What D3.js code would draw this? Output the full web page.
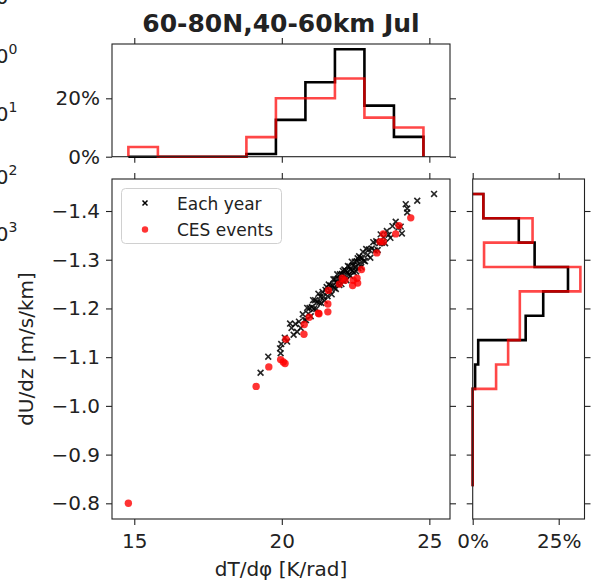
<!DOCTYPE html>
<html>
<head>
<meta charset="utf-8">
<script src="https://cdn.jsdelivr.net/npm/d3@7"></script>
<style>
	body { margin: 0; background: #fff; }
	svg text { font-family: "DejaVu Sans", sans-serif; fill: #222; }
</style>
</head>
<body>
<div id="chart"></div>
<script>
// per-year values (black x) and CES events (red dots)
const yearDT = [19.28, 19.54, 19.94, 19.96, 19.98, 20.10, 20.18, 20.28, 20.33, 20.40, 20.46, 20.52, 20.58, 20.64, 20.71, 20.77,
	20.82, 20.86, 20.90, 20.94, 20.98, 21.02, 21.06, 21.09, 21.13, 21.17, 21.20, 21.24, 21.27, 21.31, 21.34, 21.38, 21.41, 21.45,
	21.48, 21.52, 21.55, 21.59, 21.62, 21.65, 21.69, 21.72, 21.75, 21.78,
	21.81, 21.83, 21.85, 21.88, 21.90, 21.92, 21.95, 21.97, 22.00, 22.02, 22.04, 22.07, 22.09, 22.12, 22.14, 22.17, 22.19, 22.22,
	22.24, 22.27, 22.29, 22.32, 22.34, 22.37, 22.39, 22.42, 22.44, 22.47, 22.49, 22.52, 22.54, 22.57, 22.59, 22.62, 22.64, 22.67,
	22.69, 22.72, 22.75, 22.78,
	22.82, 22.86, 22.91, 22.95, 23.00, 23.05, 23.10, 23.15, 23.20, 23.25, 23.30, 23.35, 23.40, 23.45, 23.50, 23.56, 23.62, 23.68, 23.75,
	23.86, 23.95, 24.03, 24.07, 24.20, 24.25, 24.25, 24.59, 25.16];
const yearDU = [-1.068, -1.101, -1.118, -1.108, -1.127, -1.140, -1.132, -1.169, -1.160, -1.146, -1.168, -1.152, -1.173, -1.160, -1.188, -1.176,
	-1.176, -1.201, -1.189, -1.201, -1.184, -1.203, -1.217, -1.199, -1.217, -1.199, -1.213, -1.230, -1.212, -1.224, -1.211, -1.234, -1.224, -1.216,
	-1.238, -1.244, -1.225, -1.249, -1.236, -1.247, -1.229, -1.247, -1.260, -1.242,
	-1.260, -1.240, -1.253, -1.270, -1.251, -1.261, -1.248, -1.270, -1.260, -1.250, -1.271, -1.277, -1.257, -1.280, -1.266, -1.277, -1.258, -1.275,
	-1.287, -1.269, -1.286, -1.267, -1.280, -1.296, -1.277, -1.288, -1.274, -1.296, -1.285, -1.276, -1.297, -1.303, -1.283, -1.307, -1.293, -1.304,
	-1.285, -1.303, -1.316, -1.298,
	-1.297, -1.322, -1.310, -1.321, -1.304, -1.323, -1.336, -1.319, -1.338, -1.320, -1.334, -1.352, -1.335, -1.346, -1.334, -1.359, -1.351, -1.345, -1.369,
	-1.378, -1.366, -1.368, -1.354, -1.414, -1.405, -1.397, -1.421, -1.435];

const cesDT = [14.80, 19.13, 19.56, 19.96, 20.05, 20.11, 20.14, 20.75, 20.76, 20.93, 21.24, 21.26, 21.56, 21.56, 21.58,
	21.95, 22.05, 22.14, 22.40, 22.42, 22.55, 22.57, 22.70, 23.22, 23.33, 23.44, 23.44, 23.86, 23.97, 24.37];
const cesDU = [-0.800, -1.040, -1.080, -1.095, -1.090, -1.087, -1.137, -1.147, -1.167, -1.182, -1.190, -1.189, -1.193, -1.209, -1.237,
	-1.250, -1.262, -1.258, -1.247, -1.258, -1.262, -1.252, -1.280, -1.314, -1.337, -1.337, -1.353, -1.353, -1.370, -1.386];

// histogram of dT/dphi (top), percent per bin
const dtEdges = [14.8, 15.8, 16.8, 17.8, 18.8, 19.8, 20.8, 21.8, 22.8, 23.8, 24.8];
const dtYear = [0, 0, 0, 0, 0.9, 12.6, 25.5, 36.8, 17.5, 6.8];
const dtCes = [3.3, 0, 0, 0, 6.7, 20, 20, 26.8, 13.4, 10];

// histogram of dU/dz (right), percent per bin
const duEdges = [-1.435, -1.385, -1.335, -1.285, -1.235, -1.185, -1.135, -1.085, -1.035, -0.985, -0.935, -0.885, -0.835];
const duYear = [3.1, 13.4, 18.0, 27.7, 20.5, 15.4, 1.6, 0.7, 0, 0, 0, 0];
const duCes = [3.1, 17.4, 3.3, 31.3, 13.7, 13.7, 10.3, 6.8, 0, 0, 0, 0];

const dtTicks = [15, 20, 25];
const duTicks = [-1.4, -1.3, -1.2, -1.1, -1.0, -0.9, -0.8];
const topPctTicks = [0, 20];
const rightPctTicks = [0, 25];
const sideLabels = ["0", "1", "2", "3"];

const W = 608, H = 588;
const svg = d3.select("#chart").append("svg").attr("width", W).attr("height", H);

const x = d3.scaleLinear().domain([14.245, 25.70]).range([112, 450]);
const y = d3.scaleLinear().domain([-1.4657, -0.7678]).range([179, 519]);
const yTop = d3.scaleLinear().domain([0, 38.6]).range([156.7, 44]);
const xRight = d3.scaleLinear().domain([0, 32.5]).range([472.7, 584.5]);

const pct = (d) => d + "%";

function axis(gen, tx, ty, values, fmt, pad) {
	const g = svg.append("g")
		.attr("transform", `translate(${tx},${ty})`)
		.call(gen.tickValues(values).tickSize(6).tickPadding(pad).tickFormat(fmt || (() => "")));
	g.select(".domain").remove();
	g.selectAll("line").attr("stroke", "#222").attr("stroke-width", 1.1);
	g.selectAll("text").attr("font-size", 20).attr("fill", "#222").style("font-family", "DejaVu Sans");
	return g;
}

function frame(x0, y0, x1, y1) {
	svg.append("rect")
		.attr("x", x0).attr("y", y0)
		.attr("width", x1 - x0).attr("height", y1 - y0)
		.attr("fill", "none").attr("stroke", "#222").attr("stroke-width", 1.1);
}

// leftover tick labels of the neighbouring panel, clipped at the left edge
sideLabels.concat(["0"]).forEach((s, i) => {
	const by = [63, 121, 184, 241, 4][i];
	svg.append("text").attr("x", 8.5).attr("y", by).attr("font-size", 20).attr("text-anchor", "end").text("10");
	if (i < 4) {
		svg.append("text").attr("x", 8.5).attr("y", by - 9).attr("font-size", 14).text(s);
	}
});

// ---- main scatter
axis(d3.axisLeft(y), 112, 0, duTicks, d3.format(".1f"), 6);
axis(d3.axisRight(y), 450, 0, duTicks, null, 6);
axis(d3.axisBottom(x), 0, 519, dtTicks, d3.format("d"), 9);
axis(d3.axisTop(x), 0, 179, dtTicks, null, 6);

const cross = 2.9;
svg.append("g")
	.selectAll("path")
	.data(d3.zip(yearDT, yearDU))
	.enter()
	.append("path")
	.attr("d", (d) => {
		const px = x(d[0]), py = y(d[1]);
		return `M${px - cross},${py - cross}L${px + cross},${py + cross}M${px - cross},${py + cross}L${px + cross},${py - cross}`;
	})
	.attr("stroke", "#000")
	.attr("stroke-opacity", 0.85)
	.attr("stroke-width", 1.6);

svg.append("g")
	.selectAll("circle")
	.data(d3.zip(cesDT, cesDU))
	.enter()
	.append("circle")
	.attr("cx", (d) => x(d[0]))
	.attr("cy", (d) => y(d[1]))
	.attr("r", 3.7)
	.attr("fill", "#ff0000")
	.attr("fill-opacity", 0.8);

frame(112, 179, 450, 519);

// legend
const lg = svg.append("g");
lg.append("rect")
	.attr("x", 121.5).attr("y", 188.5).attr("width", 160).attr("height", 55)
	.attr("rx", 4)
	.attr("fill", "#fff").attr("fill-opacity", 0.8)
	.attr("stroke", "#d0d0d0").attr("stroke-width", 1);
lg.append("path")
	.attr("d", "M142.5,200.5L147.5,205.5M142.5,205.5L147.5,200.5")
	.attr("stroke", "#000").attr("stroke-width", 1.5);
lg.append("circle").attr("cx", 145).attr("cy", 229.5).attr("r", 3.2).attr("fill", "#ff0000").attr("fill-opacity", 0.8);
lg.append("text").attr("x", 177).attr("y", 209.5).attr("font-size", 17).text("Each year");
lg.append("text").attr("x", 177).attr("y", 235.5).attr("font-size", 17).text("CES events");

svg.append("text")
	.attr("x", 281).attr("y", 576)
	.attr("text-anchor", "middle").attr("font-size", 20)
	.text("dT/dφ [K/rad]");
svg.append("text")
	.attr("transform", "translate(33,349) rotate(-90)")
	.attr("text-anchor", "middle").attr("font-size", 20)
	.text("dU/dz [m/s/km]");

// ---- top histogram
axis(d3.axisLeft(yTop), 112, 0, topPctTicks, pct, 6);
axis(d3.axisRight(yTop), 450, 0, topPctTicks, null, 6);
axis(d3.axisBottom(x), 0, 156.7, dtTicks, null, 6);
axis(d3.axisTop(x), 0, 44, dtTicks, null, 6);

function stepsTop(edges, vals) {
	const pts = [[edges[0], 0]];
	vals.forEach((v, i) => {
		pts.push([edges[i], v]);
		pts.push([edges[i + 1], v]);
	});
	pts.push([edges[edges.length - 1], 0]);
	return d3.line().x((d) => x(d[0])).y((d) => yTop(d[1]))(pts);
}

svg.append("path").attr("d", stepsTop(dtEdges, dtYear))
	.attr("fill", "none").attr("stroke", "#000").attr("stroke-width", 2.6);
svg.append("path").attr("d", stepsTop(dtEdges, dtCes))
	.attr("fill", "none").attr("stroke", "#ff0000").attr("stroke-opacity", 0.72).attr("stroke-width", 2.6);

frame(112, 44, 450, 156.7);

svg.append("text")
	.attr("x", 281).attr("y", 32)
	.attr("text-anchor", "middle").attr("font-size", 25).attr("font-weight", "bold")
	.attr("fill", "#000")
	.text("60-80N,40-60km Jul");

// ---- right histogram
axis(d3.axisLeft(y), 472.7, 0, duTicks, null, 6);
axis(d3.axisRight(y), 584.5, 0, duTicks, null, 6);
axis(d3.axisBottom(xRight), 0, 519, rightPctTicks, pct, 9);
axis(d3.axisTop(xRight), 0, 179, rightPctTicks, null, 6);

function stepsRight(edges, vals) {
	const pts = [[0, edges[0]]];
	vals.forEach((v, i) => {
		pts.push([v, edges[i]]);
		pts.push([v, edges[i + 1]]);
	});
	pts.push([0, edges[edges.length - 1]]);
	return d3.line().x((d) => xRight(d[0])).y((d) => y(d[1]))(pts);
}

svg.append("path").attr("d", stepsRight(duEdges, duYear))
	.attr("fill", "none").attr("stroke", "#000").attr("stroke-width", 2.6);
svg.append("path").attr("d", stepsRight(duEdges, duCes))
	.attr("fill", "none").attr("stroke", "#ff0000").attr("stroke-opacity", 0.72).attr("stroke-width", 2.6);

frame(472.7, 179, 584.5, 519);
</script>
</body>
</html>
